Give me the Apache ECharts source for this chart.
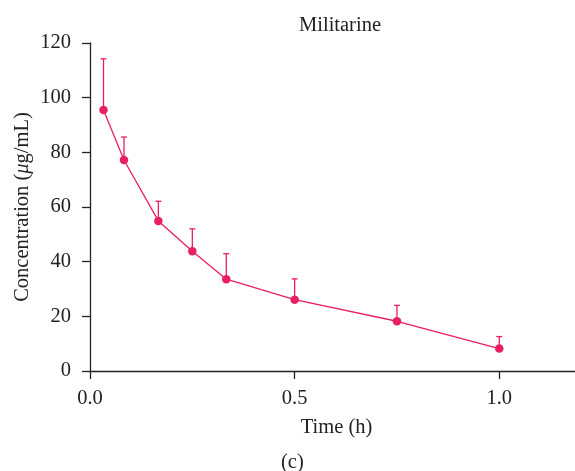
<!DOCTYPE html>
<html>
<head>
<meta charset="utf-8">
<script src="https://cdn.jsdelivr.net/npm/echarts@6/dist/echarts.min.js"></script>
<style>
  html, body { margin: 0; padding: 0; background: #fff; }
  #chart { width: 575px; height: 471px; }
</style>
</head>
<body>
<div id="chart"></div>
<script>
// time points (h) and mean concentration (ug/mL) with upper SD
const times = [0.033, 0.083, 0.167, 0.25, 0.333, 0.5, 0.75, 1.0];
const means = [95.5, 77.2, 54.9, 43.8, 33.6, 26.1, 18.2, 8.2];
const upper = [114.2, 85.6, 62.1, 52.0, 42.9, 33.7, 24.0, 12.6];
const xTicks = [0, 0.5, 1.0];

const pink = '#e91e63';
const font = '"Liberation Serif", "DejaVu Serif", serif';
const fs = 20.5;

const chart = echarts.init(document.getElementById('chart'));

const lineData = times.map((t, i) => [t, means[i]]);
const errData = times.map((t, i) => [t, means[i], upper[i]]);

chart.setOption({
  animation: false,
  textStyle: { fontFamily: font },
  title: {
    text: 'Militarine',
    left: 335, top: 10, textAlign: 'center',
    textStyle: { fontFamily: font, fontSize: fs, fontWeight: 'normal', color: '#222' }
  },
  grid: { left: 90, right: 0, top: 43, bottom: 100, outerBoundsMode: 'none', containLabel: false },
  xAxis: {
    type: 'value', min: 0, max: 1.185, interval: 0.5,
    name: 'Time (h)', nameLocation: 'middle', nameGap: 46, nameMoveOverlap: false,
    nameTextStyle: { fontFamily: font, fontSize: fs, color: '#222', padding: [0, 0, 0, 8] },
    axisLine: { lineStyle: { color: '#222', width: 1.3 } },
    axisTick: { length: 8, customValues: xTicks, lineStyle: { color: '#222', width: 1.3 } },
    axisLabel: {
      customValues: xTicks, margin: 17, fontSize: fs, color: '#222', fontFamily: font,
      formatter: v => v.toFixed(1)
    },
    splitLine: { show: false }
  },
  yAxis: {
    type: 'value', min: 0, max: 120, interval: 20,
    name: 'Concentration ({it|μ}g/mL)', nameLocation: 'middle', nameGap: 57, nameMoveOverlap: false,
    nameTextStyle: {
      fontFamily: font, fontSize: fs, color: '#222',
      rich: { it: { fontFamily: font, fontSize: fs, fontStyle: 'italic', color: '#222' } }
    },
    axisLine: { show: true, lineStyle: { color: '#222', width: 1.3 } },
    axisTick: { show: true, length: 8, lineStyle: { color: '#222', width: 1.3 } },
    axisLabel: { margin: 19, fontSize: fs, color: '#222', fontFamily: font },
    splitLine: { show: false }
  },
  graphic: [{
    type: 'text', left: 281, top: 452,
    style: { text: '(c)', font: fs + 'px ' + font, fill: '#222' }
  }],
  series: [
    {
      type: 'custom',
      data: errData,
      z: 2,
      renderItem: (params, api) => {
        const base = api.coord([api.value(0), api.value(1)]);
        const top = api.coord([api.value(0), api.value(2)]);
        const style = { stroke: pink, lineWidth: 1.3 };
        return {
          type: 'group',
          children: [
            { type: 'line', shape: { x1: base[0], y1: base[1], x2: top[0], y2: top[1] }, style },
            { type: 'line', shape: { x1: top[0] - 3, y1: top[1], x2: top[0] + 3, y2: top[1] }, style }
          ]
        };
      }
    },
    {
      type: 'line',
      data: lineData,
      z: 3,
      symbol: 'circle', symbolSize: 8.5,
      lineStyle: { color: pink, width: 1.3 },
      itemStyle: { color: pink }
    }
  ]
});
</script>
</body>
</html>
